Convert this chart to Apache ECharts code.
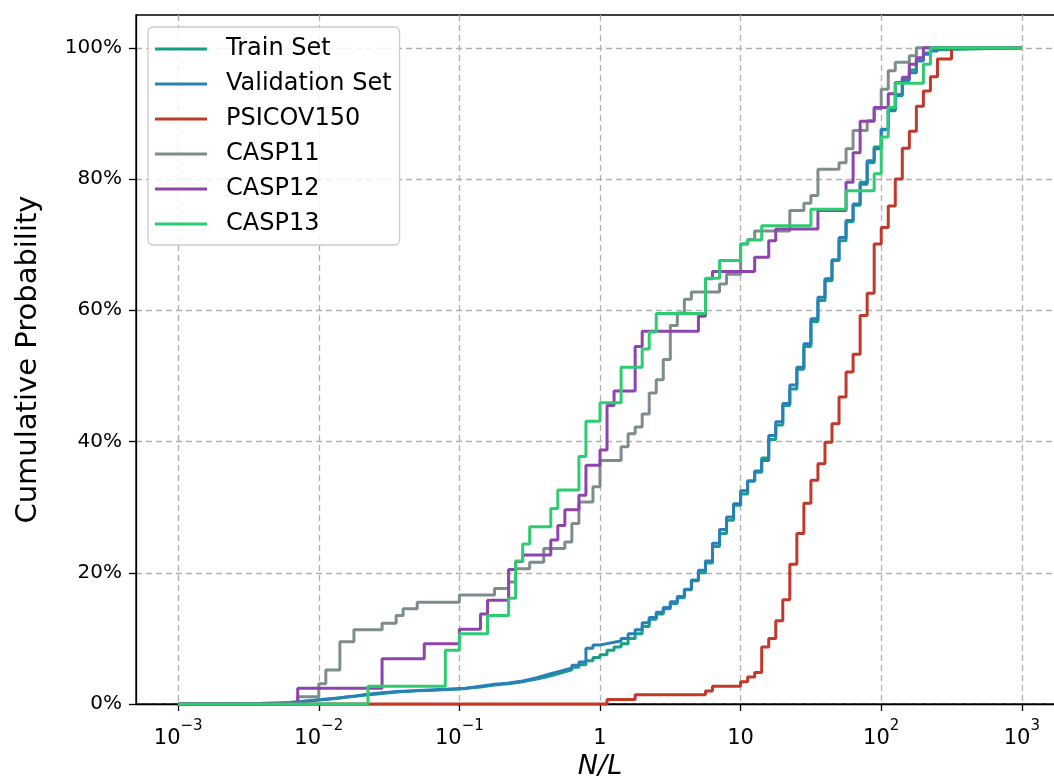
<!DOCTYPE html>
<html>
<head>
<meta charset="utf-8">
<title>Cumulative distribution of N/L</title>
<script src="https://cdn.jsdelivr.net/npm/echarts@6/dist/echarts.min.js"></script>
<style>
  html, body { margin: 0; padding: 0; background: #ffffff; overflow: hidden; }
  /* the plot frame runs slightly past the right edge of the window */
  #chart { width: 1066px; height: 778px; }
</style>
</head>
<body>
<div id="chart"></div>
<script>
// Cumulative histograms of N/L, log-spaced bins: 20 bins per decade,
// bin edge k sits at N/L = 10^(-3 + k/20), k = 0 .. 120.
const BINS_PER_DECADE = 20;
const FIRST_EDGE_EXP = -3;
const LAST_EDGE = 120;

// Train / Validation sets: cumulative % after each bin, starting at bin 10.
const trainFirstBin = 10;
const trainCum = [
  0.05, 0.1, 0.1, 0.15, 0.2, 0.25, 0.35, 0.45, 0.55, 0.65,
  0.75, 0.85, 0.95, 1.05, 1.15, 1.3, 1.4, 1.5, 1.6, 1.7,
  1.8, 1.9, 1.95, 2.0, 2.05, 2.1, 2.15, 2.2, 2.25, 2.3,
  2.4, 2.5, 2.6, 2.75, 2.9, 3.0, 3.1, 3.25, 3.4, 3.6,
  3.8, 4.05, 4.3, 4.6, 4.9, 5.2, 5.6, 6.0, 6.6, 7.1,
  7.5, 8.2, 8.7, 9.2, 10.0, 10.7, 11.8, 12.9, 13.7, 14.5,
  15.3, 16.2, 17.5, 18.9, 20.0, 21.5, 24.0, 26.0, 28.0, 30.3,
  32.0, 34.0, 35.3, 37.5, 40.3, 42.5, 45.5, 48.0, 51.0, 54.5,
  58.3, 61.5, 64.5, 67.7, 70.6, 73.5, 76.0, 79.5, 82.5, 84.9,
  87.5, 90.6, 92.9, 95.2, 96.6, 98.2, 99.2, 99.7, 100
];
const validFirstBin = 10;
const validCum = [
  0.05, 0.05, 0.1, 0.1, 0.15, 0.2, 0.3, 0.4, 0.5, 0.6,
  0.7, 0.8, 0.9, 1.05, 1.2, 1.35, 1.5, 1.6, 1.7, 1.8,
  1.9, 1.95, 2.0, 2.05, 2.1, 2.15, 2.2, 2.25, 2.3, 2.35,
  2.4, 2.55, 2.7, 2.85, 3.0, 3.1, 3.2, 3.35, 3.5, 3.75,
  4.0, 4.3, 4.6, 4.9, 5.2, 5.5, 5.9, 6.4, 8.5, 9.0,
  9.2, 9.4, 9.6, 10.0, 10.7, 11.3, 12.4, 13.2, 14.0, 14.7,
  15.6, 16.4, 17.4, 18.8, 20.4, 21.8, 24.5, 26.6, 28.5, 30.5,
  32.5, 34.0, 35.5, 37.1, 40.9, 43.0, 45.8, 48.6, 51.3, 54.9,
  58.7, 62.0, 64.8, 67.6, 71.1, 73.7, 76.2, 79.2, 82.8, 84.6,
  87.6, 90.4, 92.7, 95.0, 96.2, 98.0, 99.0, 99.5, 100
];

// Benchmark sets: bin edge where the cumulative % changes, and the new value.
const psicovBins = [61, 65, 75, 76, 80, 81, 82, 83, 84, 85, 86, 87, 88, 89, 90, 91, 92,
  93, 94, 95, 96, 97, 98, 99, 100, 101, 102, 103, 104, 105, 106, 107, 108, 110];
const psicovCum = [0.7, 1.4, 2.0, 2.7, 3.4, 4.1, 4.8, 8.7, 10.0, 12.7, 15.9, 21.3, 26.0, 30.6, 34.1, 36.6, 39.9,
  42.7, 46.8, 50.6, 53.3, 59.2, 62.6, 70.1, 72.6, 75.9, 80.0, 84.7, 87.3, 91.1, 93.4, 95.6, 98.3, 100];

const casp11Bins = [17, 20, 21, 23, 25, 29, 31, 32, 34, 40, 45, 47, 48, 50, 52, 55, 56, 57, 59, 60,
  63, 64, 65, 66, 67, 68, 69, 70, 71, 72, 73, 77, 78, 80, 81, 82, 87, 89, 90, 91,
  94, 95, 96, 98, 99, 100, 101, 102, 104, 105];
const casp11Cum = [1.1, 3.1, 5.2, 9.5, 11.3, 12.3, 13.5, 14.5, 15.5, 16.6, 17.6, 18.6, 20.6, 21.6, 23.7, 24.7, 27.5, 30.8, 33.1, 37.1,
  39.2, 41.2, 42.2, 44.2, 47.4, 49.4, 52.5, 57.7, 59.6, 61.7, 62.8, 64.0, 65.5, 70.1, 70.8, 72.1, 75.2, 76.3, 77.5, 81.5,
  82.5, 84.6, 87.4, 88.9, 90.7, 93.7, 96.5, 97.8, 98.8, 100];

const casp12Bins = [17, 29, 35, 40, 43, 44, 47, 48, 49, 53, 54, 55, 57, 58, 60, 61, 62, 65, 66, 74,
  75, 76, 82, 84, 85, 91, 95, 96, 97, 99, 101, 102, 103, 104, 105, 106];
const casp12Cum = [2.4, 6.9, 9.2, 11.4, 13.7, 15.8, 20.5, 21.7, 22.7, 25.0, 27.2, 29.6, 31.8, 36.4, 38.7, 45.5, 47.7, 54.5, 56.8, 59.1,
  64.8, 65.9, 68.1, 70.6, 72.4, 75.2, 79.5, 84.0, 88.8, 90.9, 93.0, 94.7, 95.5, 97.5, 98.5, 100];

const casp13Bins = [27, 38, 40, 44, 47, 48, 49, 50, 53, 54, 57, 58, 60, 63, 66, 67, 68, 75, 77, 80,
  81, 83, 90, 95, 99, 100, 101, 102, 106, 107];
const casp13Cum = [2.7, 8.2, 10.7, 13.5, 16.1, 21.8, 24.4, 27.0, 29.8, 32.6, 37.7, 43.1, 45.9, 51.3, 54.1, 56.7, 59.5, 64.9, 67.6, 70.1,
  70.7, 72.9, 75.4, 78.2, 80.8, 86.4, 90.9, 94.6, 97.5, 100];

const seriesNames = ['Train Set', 'Validation Set', 'PSICOV150', 'CASP11', 'CASP12', 'CASP13'];
const seriesColors = ['#16a085', '#2980b9', '#c0392b', '#7f8c8d', '#8e44ad', '#2ecc71'];

const xTickExps = [-3, -2, -1, 0, 1, 2, 3];
const yTicks = [0, 20, 40, 60, 80, 100];

const FONT = 'DejaVu Sans';
const MINUS = '\u2212';

function edge(k) {
  return Math.pow(10, FIRST_EDGE_EXP + k / BINS_PER_DECADE);
}

// Step outline of a cumulative histogram given as (edge, value) change points.
function outlineFromChanges(bins, cum) {
  const pts = [[edge(0), 0]];
  bins.forEach((k, i) => pts.push([edge(k), cum[i]]));
  pts.push([edge(LAST_EDGE), cum[cum.length - 1]]);
  return pts;
}

// Step outline of a cumulative histogram given bin by bin.
function outlineFromRun(firstBin, cum) {
  const pts = [[edge(0), 0]];
  cum.forEach((v, i) => pts.push([edge(firstBin + i), v]));
  pts.push([edge(LAST_EDGE), cum[cum.length - 1]]);
  return pts;
}

const outlines = [
  outlineFromRun(trainFirstBin, trainCum),
  outlineFromRun(validFirstBin, validCum),
  outlineFromChanges(psicovBins, psicovCum),
  outlineFromChanges(casp11Bins, casp11Cum),
  outlineFromChanges(casp12Bins, casp12Cum),
  outlineFromChanges(casp13Bins, casp13Cum)
];

function xLabel(value) {
  const e = Math.round(Math.log10(value));
  if (e === 0) return '{b|1}';
  if (e === 1) return '{b|10}';
  const s = String(e).replace('-', MINUS);
  return '{b|10}{s|' + s + '}';
}

const gridLine = { show: true, lineStyle: { color: '#b0b0b0', width: 1.3, type: [6, 4] } };

const chart = echarts.init(document.getElementById('chart'), null, { renderer: 'canvas' });

chart.setOption({
  animation: false,
  backgroundColor: '#ffffff',
  textStyle: { fontFamily: FONT },
  grid: {
    show: true,
    left: 136, right: 2, top: 15, bottom: 74,
    outerBoundsMode: 'none',
    borderColor: '#000000', borderWidth: 1.3,
    backgroundColor: 'transparent',
    containLabel: false
  },
  legend: {
    orient: 'vertical',
    left: 148, top: 27,
    padding: [10, 8, 9, 7],
    itemGap: 11,
    itemWidth: 52, itemHeight: 3,
    icon: 'rect',
    backgroundColor: 'rgba(255,255,255,0.85)',
    borderColor: '#cccccc', borderWidth: 1.3, borderRadius: 5,
    textStyle: { fontFamily: FONT, fontSize: 24, color: '#000000', padding: [0, 0, 0, 14] },
    data: seriesNames
  },
  xAxis: {
    type: 'log',
    logBase: 10,
    min: Math.pow(10, -3.3),
    max: Math.pow(10, 3.3),
    name: 'N/L',
    nameLocation: 'middle',
    nameGap: 48,
    nameTextStyle: { fontFamily: FONT, fontSize: 27, fontStyle: 'italic', color: '#000000' },
    axisLine: { show: true, onZero: false, lineStyle: { color: '#000000', width: 1.3 } },
    axisTick: { show: true, inside: false, length: 7, lineStyle: { color: '#000000', width: 1.3 },
      customValues: xTickExps.map(e => Math.pow(10, e)) },
    axisLabel: {
      show: true, margin: 15,
      customValues: xTickExps.map(e => Math.pow(10, e)),
      formatter: xLabel,
      rich: {
        b: { fontFamily: FONT, fontSize: 21, color: '#000000', verticalAlign: 'bottom', lineHeight: 30 },
        s: { fontFamily: FONT, fontSize: 15, color: '#000000', verticalAlign: 'top', lineHeight: 30 }
      }
    },
    splitLine: gridLine
  },
  yAxis: {
    type: 'value',
    min: 0, max: 105, interval: 20,
    name: 'Cumulative Probability',
    nameLocation: 'middle',
    nameGap: 93,
    nameTextStyle: { fontFamily: FONT, fontSize: 29, color: '#000000' },
    axisLine: { show: true, lineStyle: { color: '#000000', width: 1.3 } },
    axisTick: { show: true, inside: false, length: 7, lineStyle: { color: '#000000', width: 1.3 },
      customValues: yTicks },
    axisLabel: {
      show: true, margin: 14,
      customValues: yTicks,
      formatter: '{value}%',
      fontFamily: FONT, fontSize: 20, color: '#000000'
    },
    splitLine: gridLine
  },
  series: seriesNames.map((name, i) => ({
    name: name,
    type: 'line',
    step: 'end',
    data: outlines[i],
    showSymbol: false,
    symbol: 'none',
    clip: false,
    color: seriesColors[i],
    lineStyle: { color: seriesColors[i], width: 3 },
    emphasis: { disabled: true },
    z: 2 + i
  }))
});
</script>
</body>
</html>
